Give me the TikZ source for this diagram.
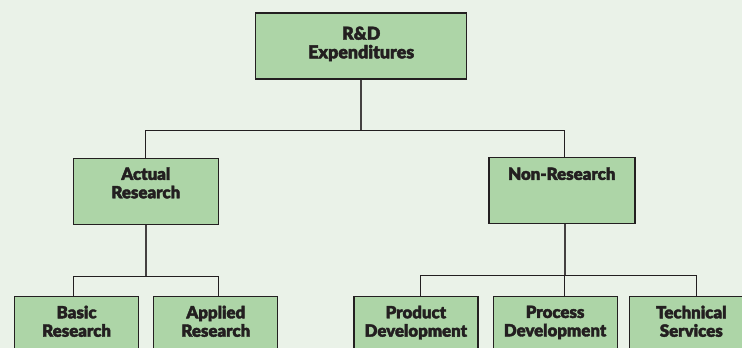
\documentclass[tikz,border=0pt]{standalone}
\usepackage{fontspec}
\newfontfamily\heavyfont{Lato Black}[FakeBold=2.2]
\usetikzlibrary{positioning}

\definecolor{bggreen}{RGB}{234,242,232}
\definecolor{boxgreen}{RGB}{173,213,167}
\definecolor{ink}{RGB}{35,31,32}

\tikzset{
  unit/.style={draw=ink, line width=1.2pt, fill=boxgreen, minimum width=124pt, minimum height=66pt, inner sep=0pt},
  caption/.style={anchor=north, align=center, inner sep=0pt, text=ink, font=\heavyfont\fontsize{16.8}{18.4}\selectfont},
  link/.style={draw=ink, line width=1.1pt},
  stem/.style={draw=ink!85, line width=1.6pt}
}

\begin{document}
\begin{tikzpicture}[x=1pt, y=-1pt]
  \fill[bggreen] (0,0) rectangle (742,348);
  \useasboundingbox (0,0) rectangle (742,348);

  % top level
  \node[unit, minimum width=211pt] (rd) at (361.2, 46) {};
  \node[caption, font=\heavyfont\fontsize{17.8}{18.6}\selectfont] (rdtext) at ([yshift=-14]rd.north) {R\&D\\Expenditures};

  % second level
  \node[unit, minimum width=145pt] (actual) at (145.8, 191.2) {};
  \node[caption] (actualtext) at ([yshift=-9.5]actual.north) {Actual\\Research};
  \node[unit, minimum width=145.7pt, line width=1.8pt] (nonres) at (561.8, 190.5) {};
  \node[caption] (nonrestext) at ([yshift=-10.5]nonres.north) {Non-Research};

  % third level
  \node[unit, anchor=north west] (basic) at (14, 296) {};
  \node[unit, right=14pt of basic] (applied) {};
  \node[unit, anchor=north west] (product) at (353.3, 296) {};
  \node[unit, right=14pt of product] (process) {};
  \node[unit, right=11pt of process] (technical) {};
  \node[caption] (basictext) at ([yshift=-9.5]basic.north) {Basic\\Research};
  \node[caption] (appliedtext) at ([yshift=-9.5]applied.north) {Applied\\Research};
  \node[caption] (producttext) at ([yshift=-9.5]product.north) {Product\\Development};
  \node[caption] (processtext) at ([yshift=-9.5]process.north) {Process\\Development};
  \node[caption] (technicaltext) at ([yshift=-9.5]technical.north) {Technical\\Services};

  % connectors: stems down from each parent, then the forks
  \draw[stem] (rd.south) -- ++(0,51) coordinate (forkR);
  \draw[link] (actual.north) |- (forkR) -| ([xshift=3]nonres.north);

  \draw[stem] (actual.south) -- ++(0,51.7) coordinate (forkA);
  \draw[link] ([xshift=-3]basic.north) |- (forkA) -| ([xshift=3]applied.north);

  \draw[stem] ([xshift=3]nonres.south) -- ++(0,51.3) coordinate (forkN);
  \draw[link] ([xshift=5]product.north) |- (forkN) -| ([xshift=5]technical.north);
  \draw[link] (forkN) -- (forkN |- process.north);
\end{tikzpicture}
\end{document}
